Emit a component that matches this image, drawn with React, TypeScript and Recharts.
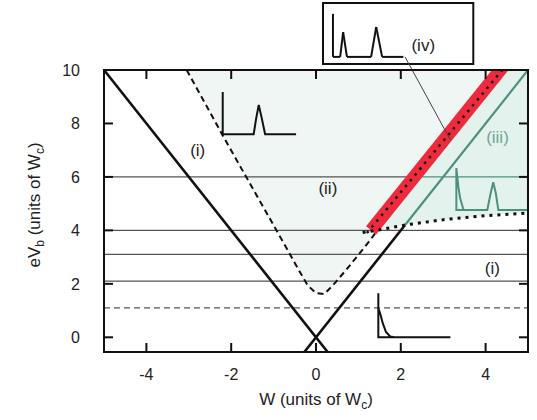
import React from "react";
import {
  ComposedChart,
  Line,
  Area,
  XAxis,
  YAxis,
  ReferenceLine,
  ReferenceArea,
  ReferenceDot,
} from "recharts";

const xDomain = [-5, 5];
const yDomain = [-0.55, 10];
const xTicks = [-4, -2, 0, 2, 4];
const yTicks = [0, 2, 4, 6, 8, 10];

// solid V (black) and its continuation (teal)
const vLeft = [{ x: -5, y: 10 }, { x: 0.275, y: -0.55 }];
const vRight = [{ x: -0.275, y: -0.55 }, { x: 2.1, y: 4.2 }];
const tealEdge = [{ x: 2.1, y: 4.2 }, { x: 5, y: 10 }];

// dashed boundary of region (ii)
const dashedEdge = [
  { x: -3.05, y: 10 },
  { x: -2.2, y: 7.55 },
  { x: -1.2, y: 4.75 },
  { x: -0.7, y: 3.35 },
  { x: -0.4, y: 2.5 },
  { x: -0.2, y: 1.95 },
  { x: 0, y: 1.65 },
  { x: 0.2, y: 1.62 },
  { x: 0.4, y: 1.95 },
  { x: 0.7, y: 2.5 },
  { x: 1.1, y: 3.28 },
  { x: 1.3, y: 3.68 },
  { x: 1.42, y: 3.95 },
];

const redBand = [{ x: 1.3, y: 4 }, { x: 4.65, y: 10.6 }];
const dottedEdge = [{ x: 1.2, y: 3.9 }, { x: 4.55, y: 10.3 }];
const dottedFloor = [
  { x: 1.1, y: 3.92 },
  { x: 1.6, y: 4.05 },
  { x: 2.1, y: 4.2 },
  { x: 3, y: 4.4 },
  { x: 4, y: 4.55 },
  { x: 5, y: 4.65 },
];

// region (iii): between dotted floor and red band / top
const regionIII = [
  { x: 1.3, lo: 3.97, hi: 4.0 },
  { x: 2.1, lo: 4.2, hi: 5.58 },
  { x: 3, lo: 4.4, hi: 7.35 },
  { x: 4, lo: 4.55, hi: 9.32 },
  { x: 4.35, lo: 4.6, hi: 10 },
  { x: 5, lo: 4.65, hi: 10 },
];

const levels = [4, 3.1, 2.1];
const level6Split = 2.32;
const dashedLevel = 1.1;

// small spectra insets
const insetII = [
  { x: -2.2, y: 9.18 },
  { x: -2.2, y: 7.6 },
  { x: -1.47, y: 7.6 },
  { x: -1.41, y: 8.2 },
  { x: -1.35, y: 8.69 },
  { x: -1.28, y: 8.2 },
  { x: -1.2, y: 7.6 },
  { x: -0.47, y: 7.6 },
];
const insetIII = [
  { x: 3.48, y: 4.76 },
  { x: 3.4, y: 5.2 },
  { x: 3.36, y: 5.6 },
  { x: 3.31, y: 6.33 },
  { x: 3.31, y: 4.76 },
  { x: 4.04, y: 4.76 },
  { x: 4.12, y: 5.4 },
  { x: 4.18, y: 5.8 },
  { x: 4.24, y: 5.4 },
  { x: 4.3, y: 4.76 },
  { x: 5, y: 4.76 },
];
const insetI = [
  { x: 1.85, y: 0 },
  { x: 1.75, y: 0.03 },
  { x: 1.65, y: 0.2 },
  { x: 1.58, y: 0.5 },
  { x: 1.52, y: 0.85 },
  { x: 1.47, y: 1.09 },
  { x: 1.47, y: 1.65 },
  { x: 1.47, y: 0 },
  { x: 3.17, y: 0 },
];
const insetIV = [
  { x: 0.4, y: 12.1 },
  { x: 0.4, y: 10.49 },
  { x: 0.57, y: 10.49 },
  { x: 0.64, y: 11.42 },
  { x: 0.73, y: 10.49 },
  { x: 1.3, y: 10.49 },
  { x: 1.42, y: 11.61 },
  { x: 1.56, y: 10.49 },
  { x: 2.06, y: 10.49 },
];
const leader = [{ x: 2.1, y: 10.49 }, { x: 3.17, y: 7.38 }];

const regionLabels = [
  { text: "(i)", x: -2.79, y: 7.0 },
  { text: "(ii)", x: 0.28, y: 5.58 },
  { text: "(iii)", x: 4.28, y: 7.49 },
  { text: "(i)", x: 4.16, y: 2.58 },
  { text: "(iv)", x: 2.53, y: 10.94 },
];

const FONT = "'Liberation Sans', Arial, sans-serif";
const TEAL = "#4f8f80";

const regionIIData = [...dashedEdge, { x: 1.4, y: 4.2 }, { x: 4.35, y: 10 }].map(
  (p) => ({ x: p.x, r: [p.y, 10] })
);
const regionIIIData = regionIII.map((p) => ({ x: p.x, r: [p.lo, p.hi] }));

const [x0, x1] = xDomain;
const [y0, y1] = yDomain;

const lines = [
  { id: "lv4", data: [{ x: x0, y: levels[0] }, { x: x1, y: levels[0] }], color: "#555", w: 1.2 },
  { id: "lv3", data: [{ x: x0, y: levels[1] }, { x: x1, y: levels[1] }], color: "#555", w: 1.2 },
  { id: "lv2", data: [{ x: x0, y: levels[2] }, { x: x1, y: levels[2] }], color: "#555", w: 1.2 },
  { id: "lv6a", data: [{ x: x0, y: 6 }, { x: level6Split, y: 6 }], color: "#555", w: 1.2 },
  { id: "lv6b", data: [{ x: level6Split, y: 6 }, { x: x1, y: 6 }], color: TEAL, w: 1.2 },
  { id: "lv1", data: [{ x: x0, y: dashedLevel }, { x: x1, y: dashedLevel }], color: "#555", w: 1.2, dash: "6 4" },
  { id: "vl", data: vLeft, color: "#111", w: 2.6 },
  { id: "vr", data: vRight, color: "#111", w: 2.6 },
  { id: "teal", data: tealEdge, color: TEAL, w: 2.2 },
  { id: "dash", data: dashedEdge, color: "#111", w: 2, dash: "6 4" },
  { id: "red", data: redBand, color: "#ee2a3d", w: 13 },
  { id: "dotE", data: dottedEdge, color: "#111", w: 2.5, dash: "2.5 5" },
  { id: "dotF", data: dottedFloor, color: "#111", w: 3, dash: "3 5" },
  { id: "in2", data: insetII, color: "#111", w: 2 },
  { id: "in3", data: insetIII, color: TEAL, w: 2 },
  { id: "in1", data: insetI, color: "#111", w: 2 },
];

const tickStyle = { fontSize: 16, fill: "#222", fontFamily: FONT };
const W = 537;
const H = 420;
// plot box set by the chart margins
const PL = 104;
const PT = 70;
const PR = W - 9;
const PB = H - 68;
const TICK = 9;
const px = (v: number) => PL + ((v - x0) / (x1 - x0)) * (PR - PL);
const py = (v: number) => PB - ((v - y0) / (y1 - y0)) * (PB - PT);
const layer: React.CSSProperties = { position: "absolute", left: 0, top: 0 };

const hiddenAxes = [
  <XAxis key="x" type="number" dataKey="x" domain={xDomain} allowDataOverflow hide />,
  <YAxis key="y" type="number" domain={yDomain} allowDataOverflow hide />,
];
const hiddenMargin = { top: PT, right: W - PR, bottom: H - PB, left: PL };

export default function App() {
  return (
    <div style={{ position: "absolute", left: 0, top: 0, background: "#fff", width: W, height: H }}>
      <div style={layer}>
        <ComposedChart width={W} height={H} margin={hiddenMargin}>
          {hiddenAxes}
          <Area data={regionIIData} dataKey="r" type="linear" stroke="none" fill="#f0f6f3" fillOpacity={1} isAnimationActive={false} />
          <Area data={regionIIIData} dataKey="r" type="linear" stroke="none" fill="#e4f2ed" fillOpacity={1} isAnimationActive={false} />
        </ComposedChart>
      </div>

      <div style={layer}>
        <ComposedChart width={W} height={H} margin={{ top: PT, right: W - PR, bottom: 0, left: 0 }}>
          <XAxis
            type="number"
            dataKey="x"
            domain={xDomain}
            ticks={xTicks}
            allowDataOverflow
            height={H - PB}
            tickLine={false}
            axisLine={{ stroke: "#111", strokeWidth: 2 }}
            tickMargin={11}
            tick={tickStyle}
          />
          <YAxis
            type="number"
            domain={yDomain}
            ticks={yTicks}
            allowDataOverflow
            width={PL}
            tickLine={false}
            axisLine={{ stroke: "#111", strokeWidth: 2 }}
            tickMargin={18}
            tick={tickStyle}
          />
          {lines.map((l) => (
            <Line
              key={l.id}
              data={l.data}
              dataKey="y"
              type="linear"
              stroke={l.color}
              strokeWidth={l.w}
              strokeDasharray={l.dash}
              dot={false}
              isAnimationActive={false}
            />
          ))}
        </ComposedChart>
      </div>

      <div style={layer}>
        <ComposedChart width={W} height={H} margin={hiddenMargin}>
          {hiddenAxes}
          <ReferenceArea x1={0.165} x2={3.71} y1={10.22} y2={12.51} ifOverflow="visible" fill="#fff" fillOpacity={1} stroke="#111" strokeWidth={2} />
          {insetIV.slice(1).map((p, i) => (
            <ReferenceLine key={"iv" + i} segment={[insetIV[i], p]} ifOverflow="visible" stroke="#111" strokeWidth={2} />
          ))}
          <ReferenceLine segment={[leader[0], leader[1]]} ifOverflow="visible" stroke="#444" strokeWidth={1} />
          {regionLabels.map((l, i) => (
            <ReferenceDot
              key={"lab" + i}
              x={l.x}
              y={l.y}
              r={0}
              ifOverflow="visible"
              fill="none"
              stroke="none"
              label={{
                value: l.text,
                position: "center",
                fontSize: 17,
                fontFamily: FONT,
                fill: l.text === "(iii)" ? "#6fa597" : "#222",
              }}
            />
          ))}
        </ComposedChart>
      </div>

      {/* frame with inward ticks, and axis titles */}
      <svg width={W} height={H} style={{ ...layer, pointerEvents: "none" }}>
        <rect x={PL} y={PT} width={PR - PL} height={PB - PT} fill="none" stroke="#111" strokeWidth={2} />
        {xTicks.map((t) => (
          <g key={"xt" + t} stroke="#111" strokeWidth={2}>
            <line x1={px(t)} x2={px(t)} y1={PB} y2={PB - TICK} />
            <line x1={px(t)} x2={px(t)} y1={PT} y2={PT + TICK} />
          </g>
        ))}
        {yTicks.map((t) => (
          <g key={"yt" + t} stroke="#111" strokeWidth={2}>
            <line x1={PL} x2={PL + TICK} y1={py(t)} y2={py(t)} />
            <line x1={PR} x2={PR - TICK} y1={py(t)} y2={py(t)} />
          </g>
        ))}
        <text x={316} y={405} textAnchor="middle" fontSize={17} fill="#222" fontFamily={FONT}>
          W (units of W<tspan dy={4} fontSize={12}>c</tspan>
          <tspan dy={-4}>)</tspan>
        </text>
        <text x={40} y={205} transform="rotate(-90, 40, 205)" textAnchor="middle" fontSize={17} fill="#222" fontFamily={FONT}>
          eV<tspan dy={4} fontSize={12}>b</tspan>
          <tspan dy={-4}> (units of W</tspan>
          <tspan dy={4} fontSize={12}>c</tspan>
          <tspan dy={-4}>)</tspan>
        </text>
      </svg>
    </div>
  );
}
